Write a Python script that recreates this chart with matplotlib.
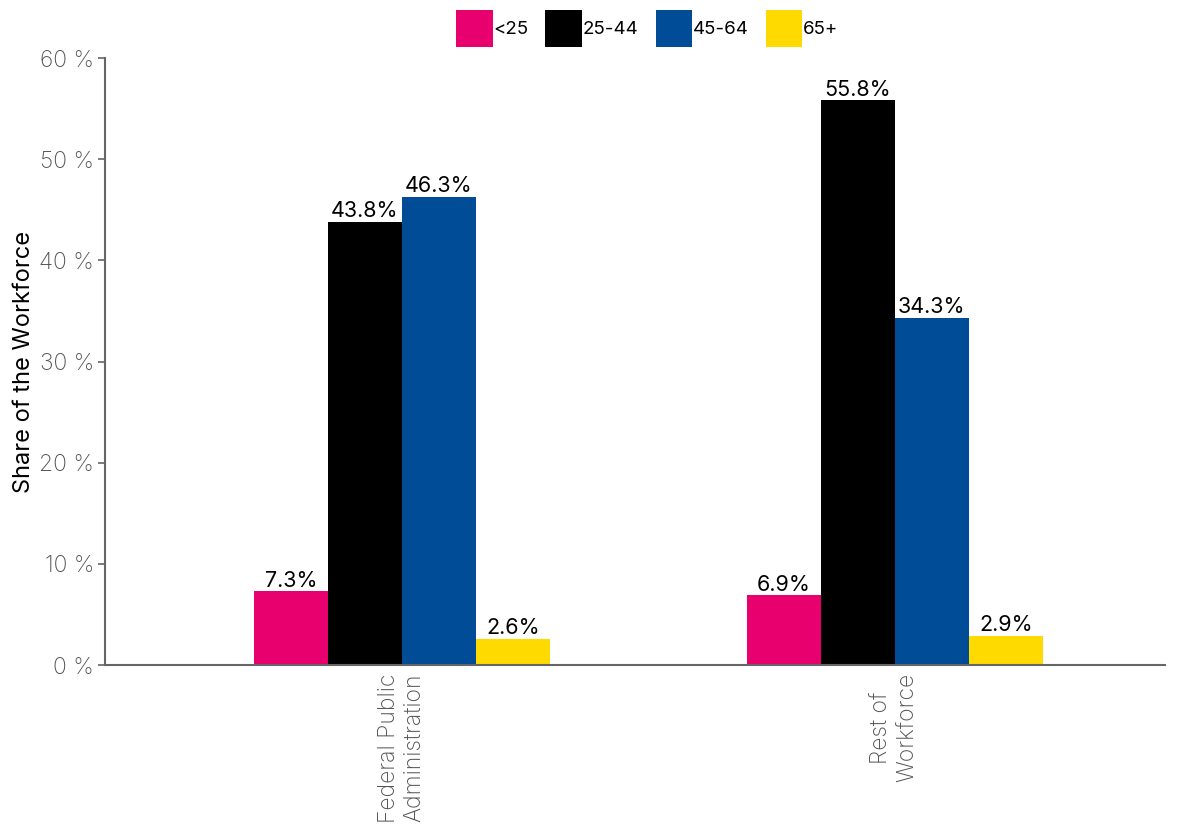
import numpy as np
import matplotlib

matplotlib.use("Agg")
import matplotlib.pyplot as plt
from matplotlib.ticker import FuncFormatter

plt.rcParams["font.family"] = ["Inter", "DejaVu Sans"]

# workforce share by age group (%)
groups = ["Federal Public\nAdministration", "Rest of\nWorkforce"]
age_bands = ["<25", "25-44", "45-64", "65+"]
under_25 = [7.3, 6.9]
age_25_44 = [43.8, 55.8]
age_45_64 = [46.3, 34.3]
over_65 = [2.6, 2.9]

colors = ["#E8006F", "#000000", "#004C97", "#FFDA00"]
axis_grey = "#666666"

fig = plt.figure(figsize=(11.79, 8.24), dpi=100)
ax = fig.add_axes([105 / 1179, 1 - 665 / 824, 1060 / 1179, 607 / 824])

x = np.arange(len(groups))
width = 0.15
series = [under_25, age_25_44, age_45_64, over_65]
for i, (vals, name, color) in enumerate(zip(series, age_bands, colors)):
    pos = x + (i - 1.5) * width
    bars = ax.bar(pos, vals, width, color=color, label=name)
    for b, v in zip(bars, vals):
        ax.text(b.get_x() + b.get_width() / 2, v + 0.05, f"{v}%",
                ha="center", va="bottom", fontsize=15.5, color="black")

ax.set_xlim(-0.602, 1.548)
ax.set_ylim(0, 60)
ax.set_yticks(range(0, 61, 10))
ax.yaxis.set_major_formatter(FuncFormatter(lambda v, _: f"{v:.0f} %"))
ax.set_xticks(x)
ax.set_xticklabels(groups, rotation=90, ha="center", va="top")

for side in ["top", "right"]:
    ax.spines[side].set_visible(False)
for side in ["left", "bottom"]:
    ax.spines[side].set_color(axis_grey)
    ax.spines[side].set_linewidth(1.5)
ax.tick_params(axis="y", colors=axis_grey, labelsize=16.5, length=5, width=1.2, pad=3)
ax.tick_params(axis="x", colors=axis_grey, labelsize=16.5, length=0, pad=6)
for lbl in ax.get_yticklabels() + ax.get_xticklabels():
    lbl.set_fontweight("light")
    lbl.set_color("#555555")

ax.set_ylabel("Share of the Workforce", fontsize=17, color="black", labelpad=3)

fig.legend(loc="upper center", bbox_to_anchor=(0.549, 1.0), ncol=4, frameon=False,
           fontsize=13.5, handlelength=1.95, handleheight=2.6, handletextpad=0.05,
           columnspacing=0.9, borderaxespad=0.15)

fig.savefig("out.png", dpi=100)
